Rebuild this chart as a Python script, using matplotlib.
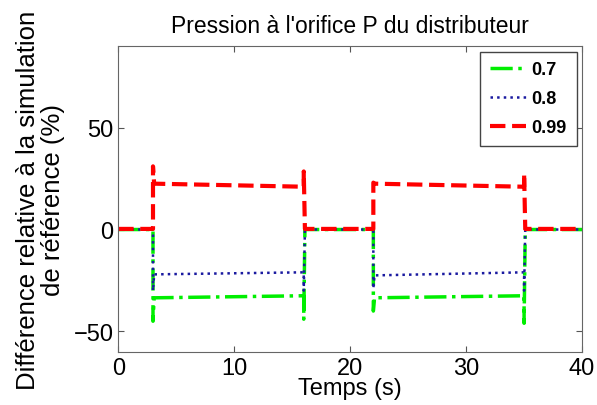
import matplotlib
matplotlib.use('Agg')
import matplotlib.pyplot as plt

# data
t_red = [0, 3.0, 3.0, 3.1, 16.0, 16.0, 16.1, 22.0, 22.0, 22.1, 35.0, 35.0, 35.1, 40]
v_red = [0.3, 0.3, 31, 22.5, 21, 28.5, 0.3, 0.3, 23, 22.5, 21, 27.5, 0.3, 0.3]

t_blue = [0, 3.0, 3.0, 3.1, 16.0, 16.0, 16.1, 22.0, 22.0, 22.1, 35.0, 35.0, 35.1, 40]
v_blue = [0, 0, -30, -22, -21, -30, 0, 0, -29, -22.5, -21, -30, 0, 0]

t_green = [0, 3.0, 3.0, 3.1, 16.0, 16.0, 16.1, 22.0, 22.0, 22.1, 35.0, 35.0, 35.1, 40]
v_green = [0, 0, -45, -33.5, -32.5, -44, 0, 0, -40, -33.5, -32.5, -46, 0, 0]

labels = ['0.7', '0.8', '0.99']

plt.rcParams['font.family'] = 'Liberation Sans'

fig = plt.figure(figsize=(5.97, 4.06), dpi=100)
ax = fig.add_axes([0.198, 0.131, 0.777, 0.753])

ax.plot(t_green, v_green, color='#00ee00', linestyle='-.', linewidth=2.5, label=labels[0])
ax.plot(t_blue, v_blue, color='#1a1aa0', linestyle=':', linewidth=1.8, label=labels[1])
ax.plot(t_red, v_red, color='#ff0000', linestyle='--', linewidth=3, label=labels[2])

ax.set_xlim(0, 40)
ax.set_ylim(-60, 90)
ax.set_xticks([0, 10, 20, 30, 40])
ax.set_yticks([-50, 0, 50])
ax.tick_params(direction='in', top=True, right=True, labelsize=17, length=4, color='#555555')
for s in ax.spines.values():
    s.set_color('#666666')

ax.set_title("Pression à l'orifice P du distributeur", fontsize=16.5, pad=10)
ax.set_xlabel('Temps (s)', fontsize=17, labelpad=-1)
ax.set_ylabel('Différence relative à la simulation\nde référence (%)', fontsize=18.5, labelpad=6,
              linespacing=1.05)

leg = ax.legend(loc='upper right', fancybox=False, framealpha=1, edgecolor='#444444',
                prop={'weight': 'bold', 'size': 13}, handlelength=2.0, handletextpad=0.3,
                labelspacing=0.65, borderpad=0.55, borderaxespad=0.3)
leg.get_frame().set_linewidth(1.0)

fig.savefig('out.png', dpi=100)
